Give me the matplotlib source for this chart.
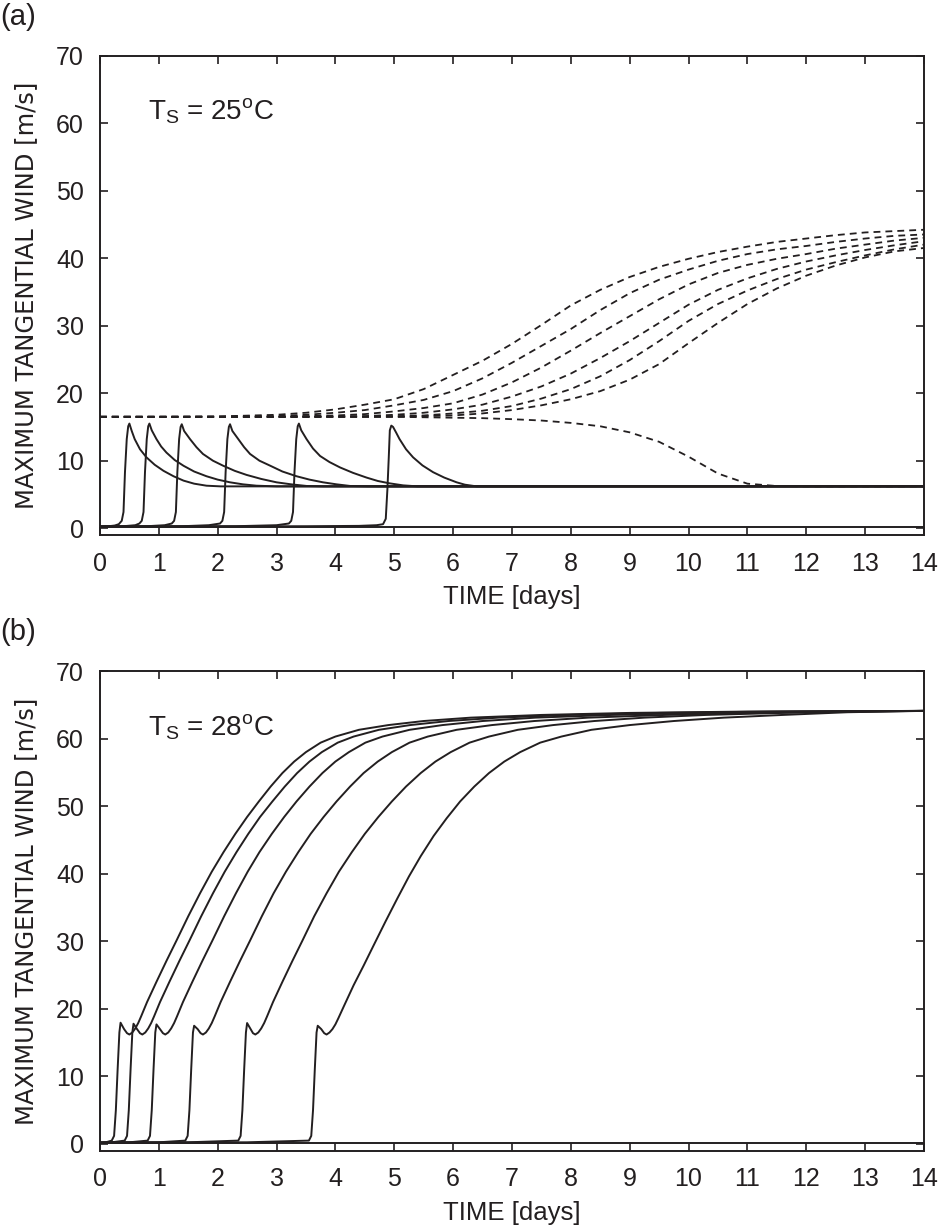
# Max tangential wind vs time for two SST cases (a) 25C, (b) 28C

import matplotlib
matplotlib.use("Agg")
import matplotlib.pyplot as plt

plt.rcParams["font.family"] = ["Liberation Sans", "DejaVu Sans"]
plt.rcParams["mathtext.fontset"] = "custom"
plt.rcParams["mathtext.rm"] = "Liberation Sans"
plt.rcParams["mathtext.it"] = "Liberation Sans:italic"

INK = "#231f20"

# ---- panel (a): Ts = 25C, solid runs (decaying) ----
a0_t = [0, 14]
a0_v = [0.25, 0.25]

a1_t = [0, 0.15, 0.25, 0.32, 0.37, 0.40, 0.425, 0.455, 0.48, 0.50, 0.54, 0.59, 0.68, 0.79, 0.93,
        1.08, 1.25, 1.42, 1.60, 1.81, 2.05, 2.4, 14]
a1_v = [0.25, 0.3, 0.4, 0.6, 1.1, 2.4, 8.3, 13.2, 15.1, 15.5, 14.4, 13.2, 11.7, 10.5, 9.4,
        8.5, 7.7, 7.05, 6.6, 6.3, 6.2, 6.2, 6.2]

a2_t = [0, 0.4, 0.6, 0.67, 0.71, 0.74, 0.765, 0.795, 0.82, 0.84, 0.88, 0.96, 1.04, 1.13, 1.27,
        1.42, 1.6, 1.81, 2.0, 2.21, 2.43, 2.66, 3.0, 14]
a2_v = [0.25, 0.3, 0.45, 0.7, 1.1, 2.4, 8.3, 13.2, 15.1, 15.5, 14.5, 13.2, 12.1, 11.2, 10.1,
        9.25, 8.4, 7.7, 7.2, 6.8, 6.5, 6.3, 6.2, 6.2]

a3_t = [0, 0.8, 1.1, 1.22, 1.26, 1.29, 1.315, 1.345, 1.37, 1.39, 1.43, 1.53, 1.64, 1.75, 1.92,
        2.09, 2.29, 2.49, 2.74, 3.0, 3.25, 3.51, 3.8, 14]
a3_v = [0.25, 0.3, 0.45, 0.7, 1.1, 2.4, 8.3, 13.2, 15.0, 15.4, 14.4, 13.2, 12.0, 11.0, 10.0,
        9.27, 8.5, 7.9, 7.3, 6.8, 6.5, 6.26, 6.2, 6.2]

a4_t = [0, 1.4, 1.85, 2.04, 2.08, 2.11, 2.135, 2.165, 2.19, 2.21, 2.25, 2.35, 2.45, 2.55, 2.71,
        2.89, 3.1, 3.34, 3.56, 3.79, 4.02, 4.25, 4.55, 14]
a4_v = [0.25, 0.3, 0.45, 0.7, 1.1, 2.4, 8.3, 13.2, 15.0, 15.4, 14.4, 13.2, 12.0, 11.0, 10.0,
        9.27, 8.4, 7.7, 7.2, 6.8, 6.5, 6.26, 6.2, 6.2]

a5_t = [0, 2.3, 3.0, 3.21, 3.25, 3.28, 3.305, 3.335, 3.36, 3.38, 3.42, 3.51, 3.62, 3.74, 3.9,
        4.08, 4.3, 4.53, 4.72, 4.92, 5.15, 5.4, 14]
a5_v = [0.25, 0.3, 0.45, 0.7, 1.1, 2.4, 8.3, 13.2, 15.1, 15.5, 14.5, 13.2, 11.8, 10.7, 9.8,
        9.0, 8.2, 7.5, 7.0, 6.65, 6.35, 6.2, 6.2]

a6_t = [0, 3.5, 4.4, 4.7, 4.81, 4.856, 4.884, 4.907, 4.925, 4.95, 4.98, 5.03, 5.09, 5.2, 5.32,
        5.48, 5.66, 5.85, 6.06, 6.2, 6.4, 14]
a6_v = [0.25, 0.3, 0.35, 0.45, 0.6, 1.4, 5.8, 10.5, 14.5, 15.2, 15.0, 14.2, 13.2, 11.7, 10.5,
        9.3, 8.3, 7.5, 6.8, 6.45, 6.2, 6.2]

# ---- panel (a): dashed runs (start at 16.5 m/s) ----
d1_t = [0, 1, 2, 3, 3.5, 4, 4.5, 5, 5.5, 6, 6.5, 7, 7.5, 8, 8.5, 9, 9.5, 10, 10.5, 11, 11.5,
        12, 12.5, 13, 13.5, 14]
d1_v = [16.5, 16.5, 16.55, 16.8, 17.1, 17.6, 18.3, 19.1, 20.6, 22.7, 24.8, 27.3, 30.1, 33.0,
        35.3, 37.2, 38.7, 39.9, 40.9, 41.7, 42.4, 42.9, 43.4, 43.8, 44.0, 44.2]

d2_t = [0, 2, 3, 3.5, 4, 4.5, 5, 5.5, 6, 6.5, 7, 7.5, 8, 8.5, 9, 9.5, 10, 10.5, 11, 11.5, 12,
        12.5, 13, 13.5, 14]
d2_v = [16.5, 16.5, 16.6, 16.8, 17.1, 17.5, 18.2, 19.0, 20.3, 22.2, 24.5, 27.0, 29.5, 32.3,
        34.8, 36.8, 38.3, 39.6, 40.6, 41.3, 41.8, 42.4, 42.9, 43.3, 43.5]

d3_t = [0, 3, 4, 4.5, 5, 5.5, 6, 6.5, 7, 7.5, 8, 8.5, 9, 9.5, 10, 10.5, 11, 11.5, 12, 12.5, 13,
        13.5, 14]
d3_v = [16.5, 16.5, 16.7, 16.9, 17.3, 17.8, 18.5, 19.8, 21.6, 23.8, 26.3, 28.9, 31.4, 33.9,
        36.1, 37.8, 39.0, 39.9, 40.6, 41.4, 42.0, 42.6, 43.0]

d4_t = [0, 3.5, 4.5, 5, 5.5, 6, 6.5, 7, 7.5, 8, 8.5, 9, 9.5, 10, 10.5, 11, 11.5, 12, 12.5, 13,
        13.5, 14]
d4_v = [16.5, 16.5, 16.6, 16.8, 17.1, 17.6, 18.3, 19.5, 21.0, 22.9, 25.2, 27.7, 30.4, 33.1,
        35.3, 37.0, 38.4, 39.5, 40.4, 41.2, 41.9, 42.5]

d5_t = [0, 4, 5, 5.5, 6, 6.5, 7, 7.5, 8, 8.5, 9, 9.5, 10, 10.5, 11, 11.5, 12, 12.5, 13, 13.5, 14]
d5_v = [16.5, 16.5, 16.6, 16.7, 17.0, 17.4, 18.1, 19.2, 20.6, 22.5, 24.9, 27.7, 30.7, 33.2,
        35.2, 36.9, 38.3, 39.4, 40.4, 41.3, 42.0]

d6_t = [0, 4, 5, 6, 6.5, 7, 7.5, 8, 8.5, 9, 9.5, 10, 10.5, 11, 11.5, 12, 12.5, 13, 13.5, 14]
d6_v = [16.5, 16.5, 16.5, 16.7, 17.0, 17.5, 18.2, 19.1, 20.3, 22.0, 24.3, 27.4, 30.4, 33.2,
        35.5, 37.4, 38.9, 40.1, 41.0, 41.5]

d7_t = [0, 4, 5, 5.77, 6.5, 7, 7.5, 8, 8.5, 9, 9.5, 10, 10.5, 11, 11.5, 12, 14]
d7_v = [16.5, 16.5, 16.5, 16.4, 16.3, 16.15, 15.95, 15.6, 15.1, 14.2, 12.8, 10.6, 8.1, 6.6,
        6.25, 6.2, 6.2]

# ---- panel (b): Ts = 28C ----
b0_t = [0, 14]
b0_v = [0.2, 0.2]

b1_t = [0, 0.1, 0.2, 0.24, 0.27, 0.30, 0.33, 0.35, 0.41, 0.46, 0.50, 0.55, 0.60, 0.65, 0.70,
        0.80, 0.96, 1.13, 1.30, 1.50, 1.70, 1.90, 2.10, 2.30, 2.50, 2.70, 2.90, 3.10, 3.30,
        3.50, 3.75, 4.00, 4.40, 4.90, 5.50, 6.30, 7.50, 9.00, 11.0, 14]
b1_v = [0.2, 0.25, 0.5, 1.2, 5, 11, 16.5, 17.95, 17.0, 16.4, 16.2, 16.5, 17.1, 17.9, 18.9,
        21.0, 24.0, 27.1, 30.1, 33.7, 37.1, 40.3, 43.2, 45.9, 48.4, 50.7, 52.9, 54.9, 56.6,
        58.0, 59.4, 60.3, 61.3, 62.0, 62.6, 63.1, 63.5, 63.8, 64.0, 64.1]

b2_t = [0, 0.2, 0.42, 0.46, 0.49, 0.52, 0.55, 0.57, 0.63, 0.68, 0.72, 0.77, 0.82, 0.87, 0.92,
        1.02, 1.18, 1.35, 1.52, 1.72, 1.92, 2.12, 2.32, 2.52, 2.72, 2.93, 3.14, 3.35, 3.56,
        3.77, 4.04, 4.31, 4.74, 5.27, 5.92, 6.77, 8.0, 9.5, 11.4, 14]
b2_v = [0.2, 0.25, 0.5, 1.2, 5, 11, 16.5, 17.8, 17.0, 16.4, 16.2, 16.5, 17.1, 17.9, 18.9,
        21.0, 24.0, 27.1, 30.1, 33.7, 37.1, 40.3, 43.2, 45.9, 48.4, 50.7, 52.9, 54.9, 56.6,
        58.0, 59.4, 60.3, 61.3, 62.0, 62.6, 63.1, 63.5, 63.8, 64.0, 64.1]

b3_t = [0, 0.5, 0.81, 0.85, 0.88, 0.91, 0.94, 0.96, 1.02, 1.07, 1.11, 1.16, 1.21, 1.26, 1.31,
        1.41, 1.57, 1.74, 1.91, 2.11, 2.31, 2.51, 2.71, 2.92, 3.13, 3.34, 3.56, 3.78, 4.00,
        4.23, 4.51, 4.80, 5.26, 5.82, 6.50, 7.40, 8.7, 10.2, 12.0, 14]
b3_v = [0.2, 0.25, 0.5, 1.2, 5, 11, 16.5, 17.7, 17.0, 16.4, 16.2, 16.5, 17.1, 17.9, 18.9,
        21.0, 24.0, 27.1, 30.1, 33.7, 37.1, 40.3, 43.2, 45.9, 48.4, 50.7, 52.9, 54.9, 56.6,
        58.0, 59.4, 60.3, 61.3, 62.0, 62.6, 63.1, 63.5, 63.8, 64.0, 64.1]

b4_t = [0, 1.0, 1.45, 1.49, 1.52, 1.55, 1.58, 1.60, 1.66, 1.71, 1.75, 1.80, 1.85, 1.90, 1.95,
        2.05, 2.21, 2.38, 2.55, 2.75, 2.95, 3.16, 3.37, 3.58, 3.80, 4.02, 4.25, 4.48, 4.72,
        4.96, 5.26, 5.57, 6.06, 6.66, 7.38, 8.30, 9.6, 11.0, 12.6, 14]
b4_v = [0.2, 0.25, 0.5, 1.2, 5, 11, 16.5, 17.5, 17.0, 16.4, 16.2, 16.5, 17.1, 17.9, 18.9,
        21.0, 24.0, 27.1, 30.1, 33.7, 37.1, 40.3, 43.2, 45.9, 48.4, 50.7, 52.9, 54.9, 56.6,
        58.0, 59.4, 60.3, 61.3, 62.0, 62.6, 63.1, 63.5, 63.8, 64.0, 64.1]

b5_t = [0, 1.5, 2.35, 2.39, 2.42, 2.45, 2.48, 2.50, 2.56, 2.60, 2.64, 2.69, 2.74, 2.79, 2.84,
        2.94, 3.10, 3.27, 3.44, 3.64, 3.85, 4.06, 4.28, 4.50, 4.73, 4.96, 5.20, 5.45, 5.70,
        5.96, 6.28, 6.61, 7.10, 7.70, 8.40, 9.25, 10.3, 11.6, 12.8, 14]
b5_v = [0.2, 0.25, 0.5, 1.2, 5, 11, 16.5, 17.9, 17.0, 16.4, 16.2, 16.5, 17.1, 17.9, 18.9,
        21.0, 24.0, 27.1, 30.1, 33.7, 37.1, 40.3, 43.2, 45.9, 48.4, 50.7, 52.9, 54.9, 56.6,
        58.0, 59.4, 60.3, 61.3, 62.0, 62.6, 63.1, 63.5, 63.8, 64.0, 64.1]

b6_t = [0, 2.5, 3.55, 3.59, 3.62, 3.65, 3.68, 3.70, 3.76, 3.81, 3.85, 3.90, 3.95, 4.00, 4.05,
        4.15, 4.31, 4.48, 4.65, 4.85, 5.05, 5.25, 5.45, 5.67, 5.89, 6.12, 6.36, 6.61, 6.87,
        7.14, 7.48, 7.84, 8.35, 9.00, 9.75, 10.6, 11.6, 12.7, 14]
b6_v = [0.2, 0.25, 0.5, 1.2, 5, 11, 16.5, 17.5, 17.0, 16.4, 16.2, 16.5, 17.0, 17.7, 18.6,
        20.5, 23.5, 26.4, 29.4, 32.9, 36.3, 39.6, 42.6, 45.6, 48.2, 50.7, 52.9, 54.9, 56.6,
        58.0, 59.4, 60.3, 61.3, 62.0, 62.6, 63.1, 63.5, 63.9, 64.1]

x_ticks = list(range(0, 15))
y_ticks = list(range(0, 71, 10))

solid_a = [(a0_t, a0_v), (a1_t, a1_v), (a2_t, a2_v), (a3_t, a3_v),
           (a4_t, a4_v), (a5_t, a5_v), (a6_t, a6_v)]
dashed_a = [(d1_t, d1_v), (d2_t, d2_v), (d3_t, d3_v), (d4_t, d4_v),
            (d5_t, d5_v), (d6_t, d6_v), (d7_t, d7_v)]
solid_b = [(b0_t, b0_v), (b1_t, b1_v), (b2_t, b2_v), (b3_t, b3_v),
           (b4_t, b4_v), (b5_t, b5_v), (b6_t, b6_v)]


def style_axes(ax, label):
    ax.set_xlim(0, 14)
    ax.set_ylim(-1, 70)
    ax.set_xticks(x_ticks)
    ax.set_yticks(y_ticks)
    ax.tick_params(direction="in", length=6, width=1.2, top=True, right=True,
                   labelsize=18, colors=INK)
    ax.tick_params(axis="x", pad=12)
    ax.tick_params(axis="y", pad=11.5)
    for s in ax.spines.values():
        s.set_linewidth(1.4)
        s.set_color(INK)
    ax.set_xlabel("TIME [days]", fontsize=18.5, color=INK, labelpad=7)
    # the y label in the original is set wider than the rest, DejaVu gets its length
    ax.set_ylabel("MAXIMUM TANGENTIAL WIND [m/s]", fontsize=17.5, color=INK, labelpad=13,
                  family="DejaVu Sans")
    ax.text(0.82, 60.5, label, fontsize=20, color=INK, va="baseline")


fig = plt.figure(figsize=(9.43, 12.31), dpi=100)
ax_a = fig.add_axes([0.106, 0.5654, 0.8738, 0.3895])
ax_b = fig.add_axes([0.106, 0.0652, 0.8738, 0.3897])

for t, v in dashed_a:
    ax_a.plot(t, v, color=INK, lw=1.3, linestyle=(0, (3.8, 2.8)))
for t, v in solid_a:
    ax_a.plot(t, v, color=INK, lw=1.4)
for t, v in solid_b:
    ax_b.plot(t, v, color=INK, lw=1.4)

style_axes(ax_a, r"T$_{\rm S}$ = 25$^{\rm o}$C")
style_axes(ax_b, r"T$_{\rm S}$ = 28$^{\rm o}$C")

fig.text(0.0, 1 - 17 / 1231, "(a)", fontsize=21, color=INK, va="center", ha="left")
fig.text(0.0, 1 - 632 / 1231, "(b)", fontsize=21, color=INK, va="center", ha="left")

plt.savefig("out.png", dpi=100)
